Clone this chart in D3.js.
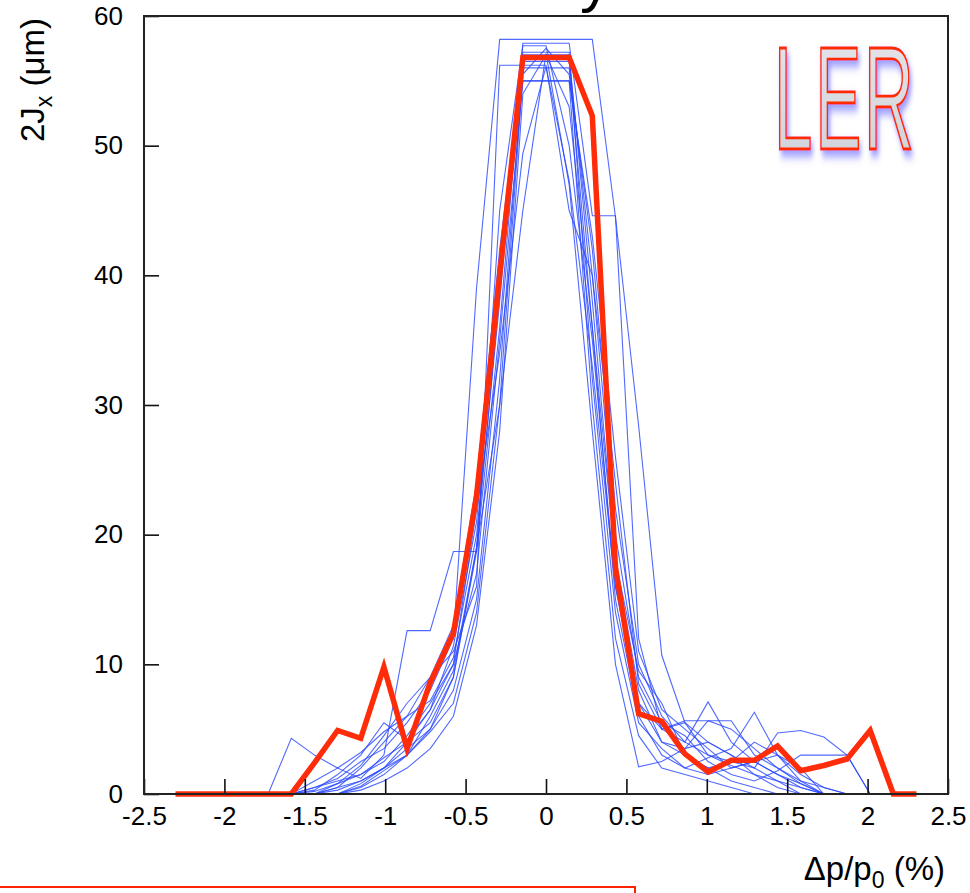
<!DOCTYPE html>
<html>
<head>
<meta charset="utf-8">
<script src="https://cdn.jsdelivr.net/npm/d3@7"></script>
<style>
  html, body { margin: 0; padding: 0; background: #fff; overflow: hidden; }
  svg { display: block; font-family: "Liberation Sans", Arial, Helvetica, sans-serif; }
</style>
</head>
<body>
<div id="chart"></div>
<script>
// momentum offset grid (%), red = measured average, blue = individual scans
const dpGrid = [-2.304, -2.16, -2.016, -1.872, -1.728, -1.584, -1.44, -1.296, -1.152, -1.008,
  -0.864, -0.72, -0.576, -0.432, -0.288, -0.144, 0, 0.144, 0.288, 0.432, 0.576, 0.72,
  0.864, 1.008, 1.152, 1.296, 1.44, 1.584, 1.728, 1.872, 2.016, 2.16, 2.304];

const redValues = [0, 0, 0, 0, 0, 0, 2.4, 4.9, 4.3, 9.8, 3.5, 8.6, 12.4, 23.0, 40.0, 56.8, 56.8,
  56.8, 52.3, 17.5, 6.2, 5.6, 3.1, 1.7, 2.6, 2.6, 3.7, 1.8, 2.2, 2.7, 4.9, 0, 0];

// blue scans are defined from dp = -1.728 to 2.16 (dpGrid index 4 .. 31)
const blueStart = 4;
const blueScans = [
  [0, 0, 0.5, 1.2, 2.5, 3.5, 5.5, 8.0, 12.0, 39.0, 58.2, 58.2, 58.2, 58.2, 58.2, 44.5, 28.4, 10.7, 5.5, 3.0, 2.2, 1.5, 1.0, 0.5, 0, 0, 0, 0],
  [0, 4.3, 3.0, 2.0, 3.2, 4.8, 6.0, 7.2, 10.5, 20.0, 38.0, 57.9, 57.9, 57.9, 44.6, 44.6, 12.0, 5.0, 5.65, 5.65, 5.65, 3.0, 2.0, 0.8, 0, 0, 0, 0],
  [0, 0, 0, 0.8, 1.5, 2.8, 4.0, 5.5, 9.0, 18.7, 45.0, 57.7, 57.7, 50.0, 35.0, 16.0, 7.0, 5.0, 4.0, 7.1, 4.0, 2.5, 1.5, 0.5, 0, 0, 0, 0],
  [0, 0, 1.0, 2.0, 1.2, 3.0, 12.6, 12.6, 18.7, 18.7, 36.0, 57.2, 57.2, 57.2, 32.0, 14.0, 5.5, 3.5, 2.0, 2.8, 3.5, 6.3, 3.0, 1.0, 0, 0, 0, 0],
  [0, 0, 0.3, 1.5, 3.0, 5.5, 4.2, 6.5, 11.4, 21.0, 40.0, 57.0, 57.0, 57.0, 38.0, 18.0, 8.0, 4.0, 3.0, 2.0, 2.5, 2.0, 4.7, 4.9, 4.4, 3.0, 0, 0],
  [0, 0, 0, 0.5, 2.0, 4.0, 6.0, 9.0, 11.0, 16.0, 56.2, 56.2, 56.2, 45.0, 40.0, 20.0, 9.0, 5.5, 4.5, 2.5, 1.5, 1.0, 1.8, 3.0, 3.0, 3.0, 0, 0],
  [0, 0, 0, 0, 0.8, 2.0, 3.5, 5.0, 8.0, 15.0, 32.0, 56.0, 56.0, 56.0, 36.0, 15.0, 6.0, 3.0, 2.0, 1.5, 2.0, 2.5, 3.0, 1.5, 0.5, 0, 0, 0],
  [0, 0, 0.5, 1.0, 1.5, 2.5, 4.5, 7.0, 10.0, 17.0, 35.0, 55.0, 55.0, 55.0, 30.0, 12.0, 4.5, 2.0, 1.5, 1.0, 0.5, 0, 0, 0, 0, 0, 0, 0],
  [0, 0, 0, 0, 0.5, 1.5, 3.0, 6.0, 9.5, 19.0, 30.0, 45.0, 57.1, 47.0, 28.0, 10.0, 2.1, 2.5, 3.5, 4.0, 3.0, 2.0, 1.0, 0, 0, 0, 0, 0],
  [0, 0, 0, 0.3, 1.0, 2.0, 4.0, 6.5, 10.0, 22.0, 34.0, 49.4, 56.1, 47.3, 33.0, 16.0, 7.0, 4.0, 3.5, 5.65, 5.0, 3.5, 2.0, 1.0, 0.5, 0, 0, 0],
  [0, 0, 0, 0, 0.6, 1.8, 3.0, 4.8, 7.0, 14.0, 30.0, 55.5, 57.5, 55.5, 42.0, 22.0, 10.0, 6.0, 4.0, 3.0, 2.5, 4.0, 3.0, 2.0, 0, 0, 0, 0],
  [0, 0, 0.2, 0.8, 2.2, 4.5, 7.0, 9.0, 13.0, 24.0, 42.0, 56.5, 56.5, 56.5, 40.0, 24.0, 8.5, 5.0, 5.5, 4.0, 3.0, 1.5, 0.5, 0, 0, 0, 0, 0],
  [0, 0, 0, 0, 0.3, 1.0, 2.0, 3.5, 6.0, 13.0, 28.0, 54.0, 57.0, 53.0, 36.0, 18.0, 9.5, 7.0, 3.0, 2.0, 1.0, 0.5, 0, 0, 0, 0, 0, 0],
  [0, 0, 0, 0.5, 1.0, 2.0, 3.0, 5.0, 9.0, 19.0, 39.0, 55.0, 55.0, 55.0, 43.0, 26.0, 11.0, 6.5, 5.0, 3.5, 2.0, 2.5, 1.5, 0.8, 0, 0, 0, 0]
];

const xTicks = [-2.5, -2, -1.5, -1, -0.5, 0, 0.5, 1, 1.5, 2, 2.5];
const yTicks = [0, 10, 20, 30, 40, 50, 60];

const W = 970, H = 893;
const plot = {left: 144, right: 948, top: 16, bottom: 794};

const svg = d3.select('#chart').append('svg')
  .attr('width', W)
  .attr('height', H);

const x = d3.scaleLinear().domain([-2.5, 2.5]).range([plot.left, plot.right]);
const y = d3.scaleLinear().domain([0, 60]).range([plot.bottom, plot.top]);

// glow filter for the LER label
const defs = svg.append('defs');
const glow = defs.append('filter').attr('id', 'glow')
  .attr('x', '-20%').attr('y', '-20%').attr('width', '150%').attr('height', '150%');
glow.append('feGaussianBlur').attr('in', 'SourceAlpha').attr('stdDeviation', 5).attr('result', 'b');
glow.append('feOffset').attr('in', 'b').attr('dx', 5).attr('dy', 6).attr('result', 'o');
glow.append('feFlood').attr('flood-color', '#6a6aff').attr('flood-opacity', 0.7);
glow.append('feComposite').attr('in2', 'o').attr('operator', 'in').attr('result', 's');
const merge = glow.append('feMerge');
merge.append('feMergeNode').attr('in', 's');
merge.append('feMergeNode').attr('in', 'SourceGraphic');

const grad = defs.append('linearGradient').attr('id', 'lerFill')
  .attr('x1', 0).attr('y1', 0).attr('x2', 0).attr('y2', 1);
grad.append('stop').attr('offset', '0%').attr('stop-color', '#e6e6ec');
grad.append('stop').attr('offset', '100%').attr('stop-color', '#cfd0d8');

// title fragment cut off at the top of the picture (only the descender shows)
svg.append('text')
  .attr('x', 580).attr('y', 0)
  .attr('font-size', 62)
  .text('y');

// lines
const line = d3.line()
  .x(d => x(d[0]))
  .y(d => y(d[1]));

svg.append('g')
  .selectAll('path')
  .data(blueScans)
  .join('path')
  .attr('d', s => line(s.map((v, i) => [dpGrid[i + blueStart], v])))
  .attr('fill', 'none')
  .attr('stroke', '#2a48ff')
  .attr('stroke-opacity', 0.82)
  .attr('stroke-width', 1.1);

svg.append('path')
  .datum(redValues.map((v, i) => [dpGrid[i], v]))
  .attr('d', line)
  .attr('fill', 'none')
  .attr('stroke', '#ff2c0a')
  .attr('stroke-width', 5.5)
  .attr('stroke-linejoin', 'miter');

// axes (ticks pointing inside the frame)
const gx = svg.append('g').attr('transform', `translate(0,${plot.bottom})`);
gx.call(d3.axisBottom(x).tickValues(d3.range(-25, 26).map(d => d / 10)).tickSize(-7).tickFormat(''));
gx.call(d3.axisBottom(x).tickValues(xTicks).tickSize(-15).tickPadding(13)
  .tickFormat(d => String(d)));

const gy = svg.append('g').attr('transform', `translate(${plot.left},0)`);
gy.call(d3.axisLeft(y).tickValues(d3.range(0, 61, 2)).tickSize(-7).tickFormat(''));
gy.call(d3.axisLeft(y).tickValues(yTicks).tickSize(-15).tickPadding(21));

svg.selectAll('.domain').remove();
svg.selectAll('.tick line').attr('stroke', '#111').attr('stroke-width', 1.6);
svg.selectAll('.tick text')
  .attr('font-size', 26)
  .attr('font-family', '"Liberation Sans", Arial, sans-serif')
  .attr('fill', '#000');

svg.append('rect')
  .attr('x', plot.left).attr('y', plot.top)
  .attr('width', plot.right - plot.left)
  .attr('height', plot.bottom - plot.top)
  .attr('fill', 'none')
  .attr('stroke', '#222')
  .attr('stroke-width', 2);

// axis titles
const yTitle = svg.append('text')
  .attr('transform', 'rotate(-90)')
  .attr('x', -18).attr('y', 44)
  .attr('text-anchor', 'end')
  .attr('font-size', 33);
yTitle.append('tspan').text('2J');
yTitle.append('tspan').attr('font-size', 23).attr('dy', 8).text('x');
yTitle.append('tspan').attr('dy', -8).text(' (μm)');

const xTitle = svg.append('text')
  .attr('x', 945).attr('y', 880)
  .attr('text-anchor', 'end')
  .attr('font-size', 33);
xTitle.append('tspan').text('Δp/p');
xTitle.append('tspan').attr('font-size', 23).attr('dy', 8).text('0');
xTitle.append('tspan').attr('dy', -8).text(' (%)');

// LER label, squeezed horizontally to the condensed look of the original
const ler = svg.append('g').attr('filter', 'url(#glow)');
const lerText = ler.append('text')
  .attr('font-size', 146)
  .attr('letter-spacing', 6)
  .attr('fill', 'url(#lerFill)')
  .attr('stroke', '#ff2a00')
  .attr('stroke-width', 2.2)
  .attr('vector-effect', 'non-scaling-stroke')
  .text('LER');
const lerW = lerText.node().getComputedTextLength() - 6;
ler.attr('transform', `translate(774,149) scale(${140 / lerW},1)`);

// red box at the bottom, cut by the picture edge
svg.append('rect')
  .attr('x', -5).attr('y', 887)
  .attr('width', 640).attr('height', 30)
  .attr('fill', 'none')
  .attr('stroke', '#ff2200')
  .attr('stroke-width', 2);
</script>
</body>
</html>
